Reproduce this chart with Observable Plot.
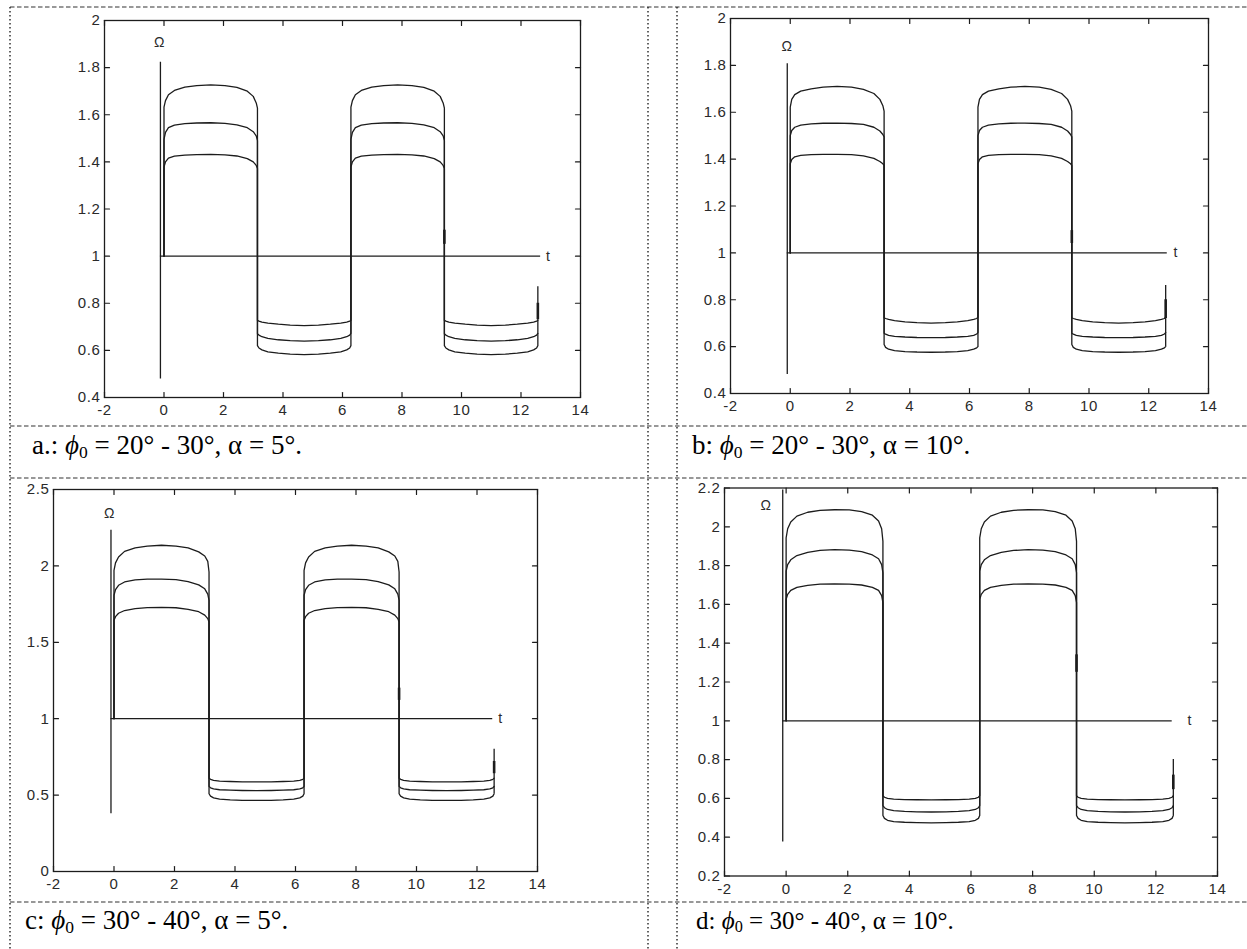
<!DOCTYPE html>
<html><head><meta charset="utf-8">
<script src="https://cdn.jsdelivr.net/npm/d3@7"></script>
<script src="https://cdn.jsdelivr.net/npm/@observablehq/plot@0.6"></script>
<style>
html,body{margin:0;padding:0;background:#fff;}
body{width:1247px;height:949px;position:relative;overflow:hidden;}
.panel{position:absolute;}
#overlay{position:absolute;left:0;top:0;z-index:10;pointer-events:none;}
.cap{position:absolute;z-index:11;white-space:pre;color:#000;font-family:"Liberation Serif","Times New Roman","DejaVu Serif",serif;line-height:1;}
.cap i{font-style:italic;}
.cap sub{font-size:0.65em;vertical-align:-0.2em;line-height:0;}
</style></head>
<body>
<div id="pa" class="panel"></div>
<div id="pb" class="panel"></div>
<div id="pc" class="panel"></div>
<div id="pd" class="panel"></div>
<script>
// ---------- data ----------
const xTicks = [-2, 0, 2, 4, 6, 8, 10, 12, 14];
const abYTicks = [0.4, 0.6, 0.8, 1, 1.2, 1.4, 1.6, 1.8, 2];
const cYTicks = [0, 0.5, 1, 1.5, 2, 2.5];
const dYTicks = [0.2, 0.4, 0.6, 0.8, 1, 1.2, 1.4, 1.6, 1.8, 2, 2.2];

// phase offsets (t within each half period) at which the curves were read
const PHASE = [0, 0.05, 0.15, 0.35, 0.7, 1.1, 1.5708, 2.05, 2.45, 2.8, 3.0, 3.1, 3.1416];

// panel a : phi0 = 20-30, alpha = 5
const aUpper = [
  [1.632, 1.660, 1.685, 1.703, 1.717, 1.724, 1.727, 1.724, 1.716, 1.700, 1.678, 1.650, 1.628],
  [1.495, 1.525, 1.545, 1.556, 1.562, 1.565, 1.566, 1.563, 1.557, 1.545, 1.528, 1.510, 1.490],
  [1.378, 1.400, 1.416, 1.424, 1.429, 1.431, 1.432, 1.430, 1.425, 1.414, 1.400, 1.385, 1.372]
];
const aLower = [
  [0.727, 0.724, 0.720, 0.716, 0.711, 0.707, 0.705, 0.707, 0.711, 0.716, 0.720, 0.724, 0.727],
  [0.670, 0.665, 0.658, 0.651, 0.645, 0.641, 0.639, 0.641, 0.645, 0.651, 0.658, 0.665, 0.672],
  [0.620, 0.610, 0.602, 0.594, 0.588, 0.584, 0.582, 0.584, 0.588, 0.594, 0.602, 0.610, 0.620]
];
// panel b : phi0 = 20-30, alpha = 10
const bUpper = [
  [1.622, 1.655, 1.675, 1.690, 1.700, 1.707, 1.710, 1.707, 1.698, 1.680, 1.655, 1.628, 1.605],
  [1.500, 1.522, 1.536, 1.545, 1.550, 1.553, 1.554, 1.552, 1.548, 1.536, 1.520, 1.505, 1.495],
  [1.380, 1.398, 1.410, 1.416, 1.419, 1.420, 1.420, 1.419, 1.414, 1.403, 1.390, 1.380, 1.373]
];
const bLower = [
  [0.723, 0.720, 0.716, 0.711, 0.706, 0.702, 0.700, 0.702, 0.706, 0.711, 0.716, 0.720, 0.725],
  [0.657, 0.653, 0.648, 0.644, 0.641, 0.639, 0.638, 0.639, 0.641, 0.644, 0.648, 0.654, 0.660],
  [0.609, 0.597, 0.589, 0.583, 0.579, 0.577, 0.576, 0.577, 0.579, 0.583, 0.589, 0.595, 0.600]
];
// panel c : phi0 = 30-40, alpha = 5
const cUpper = [
  [1.971, 2.020, 2.058, 2.095, 2.118, 2.130, 2.135, 2.130, 2.118, 2.092, 2.065, 2.030, 1.960],
  [1.808, 1.845, 1.873, 1.895, 1.908, 1.913, 1.914, 1.910, 1.897, 1.876, 1.850, 1.815, 1.775],
  [1.644, 1.668, 1.690, 1.708, 1.720, 1.727, 1.729, 1.726, 1.716, 1.700, 1.678, 1.655, 1.633]
];
const cLower = [
  [0.611, 0.603, 0.597, 0.592, 0.589, 0.587, 0.586, 0.587, 0.589, 0.592, 0.597, 0.603, 0.611],
  [0.557, 0.548, 0.541, 0.535, 0.532, 0.530, 0.529, 0.530, 0.532, 0.535, 0.541, 0.548, 0.557],
  [0.509, 0.493, 0.482, 0.474, 0.469, 0.466, 0.465, 0.466, 0.469, 0.474, 0.482, 0.493, 0.509]
];
// panel d : phi0 = 30-40, alpha = 10
const dUpper = [
  [1.943, 1.990, 2.025, 2.055, 2.075, 2.085, 2.088, 2.087, 2.078, 2.060, 2.030, 1.990, 1.925],
  [1.771, 1.805, 1.830, 1.852, 1.868, 1.878, 1.882, 1.880, 1.872, 1.855, 1.835, 1.805, 1.763],
  [1.626, 1.652, 1.672, 1.688, 1.698, 1.704, 1.706, 1.705, 1.700, 1.688, 1.672, 1.645, 1.609]
];
const dLower = [
  [0.614, 0.606, 0.600, 0.596, 0.594, 0.593, 0.592, 0.593, 0.594, 0.596, 0.600, 0.606, 0.614],
  [0.563, 0.552, 0.543, 0.537, 0.533, 0.531, 0.530, 0.531, 0.533, 0.537, 0.543, 0.552, 0.563],
  [0.512, 0.497, 0.487, 0.480, 0.477, 0.475, 0.474, 0.475, 0.477, 0.480, 0.487, 0.497, 0.512]
];

// hand-drawn axes inside the plots: [t, Omega bottom, Omega top]
const omegaAxes = {a: [-0.12, 0.479, 1.823], b: [-0.10, 0.481, 1.807], c: [-0.10, 0.378, 2.233], d: [-0.11, 0.375, 2.19]};
const tAxes = {a: [-0.12, 12.66], b: [-0.10, 12.62], c: [-0.10, 12.52], d: [-0.11, 12.53]};
const omegaLabels = {a: [-0.15, 1.907], b: [-0.11, 1.880], c: [-0.15, 2.34], d: [-0.65, 2.11]};
const tLabels = {a: [12.92, 1], b: [12.90, 1], c: [12.78, 1], d: [13.1, 1]};
const stubs3pi = {a: [1.05, 1.11], b: [1.04, 1.095], c: [1.12, 1.20], d: [1.25, 1.34]};
const stubsEnd = {a: [0.73, 0.80], b: [0.72, 0.80], c: [0.64, 0.72], d: [0.645, 0.72]};
const endTops = {a: 0.87, b: 0.861, c: 0.80, d: 0.80};

const captions = [
  {p: "a.: ", rest: " = 20° - 30°, α = 5°."},
  {p: "b: ", rest: " = 20° - 30°, α = 10°."},
  {p: "c: ", rest: " = 30° - 40°, α = 5°."},
  {p: "d: ", rest: " = 30° - 40°, α = 10°."}
];

// ---------- build ----------
function buildCurves(upper, lower) {
  const rows = [];
  upper.forEach((u, i) => {
    const l = lower[i];
    rows.push({t: 0, w: 1, c: i});
    for (let k = 0; k < 2; k++) {
      PHASE.forEach((p, j) => rows.push({t: 2 * Math.PI * k + p, w: u[j], c: i}));
      PHASE.forEach((p, j) => rows.push({t: 2 * Math.PI * k + Math.PI + p, w: l[j], c: i}));
    }
  });
  return rows;
}

const tickShape = {draw(ctx, l) { ctx.moveTo(0, 0); ctx.lineTo(0, -l); }};
const INK = "#1c1c1c";
const LBL = "#2a2a2a";
const FS = 15;

const panelCfg = [
  {key: "a", el: "pa", left: 50, top: 8, width: 545, height: 415, mL: 54, mR: 15, mT: 12, mB: 26, yDom: [0.4, 2], yTicks: abYTicks, upper: aUpper, lower: aLower},
  {key: "b", el: "pb", left: 686, top: 6, width: 540, height: 415, mL: 44, mR: 18, mT: 12, mB: 28, yDom: [0.4, 2], yTicks: abYTicks, upper: bUpper, lower: bLower},
  {key: "c", el: "pc", left: 12, top: 477, width: 540, height: 420, mL: 41, mR: 15, mT: 12, mB: 26, yDom: [0, 2.5], yTicks: cYTicks, upper: cUpper, lower: cLower},
  {key: "d", el: "pd", left: 680, top: 476, width: 560, height: 422, mL: 44, mR: 23, mT: 11.5, mB: 22.5, yDom: [0.2, 2.2], yTicks: dYTicks, upper: dUpper, lower: dLower}
];

for (const cfg of panelCfg) {
  const k = cfg.key;
  const rows = buildCurves(cfg.upper, cfg.lower);
  const oa = omegaAxes[k], ta = tAxes[k];
  const lastBottom = cfg.lower[2][cfg.lower[2].length - 1];
  const fmt = d => String(d);
  const chart = Plot.plot({
    width: cfg.width, height: cfg.height,
    marginLeft: cfg.mL, marginRight: cfg.mR, marginTop: cfg.mT, marginBottom: cfg.mB,
    style: {fontFamily: "'Liberation Sans', Arial, sans-serif", fontSize: FS + "px", letterSpacing: "0.6px", color: LBL, background: "transparent", overflow: "visible"},
    x: {domain: [-2, 14], ticks: xTicks},
    y: {domain: cfg.yDom, ticks: cfg.yTicks},
    marks: [
      Plot.frame({stroke: INK, strokeWidth: 1.3}),
      Plot.axisX({ticks: xTicks, tickSize: 0, tickPadding: 7, tickFormat: fmt, label: null, fill: LBL, fontSize: FS}),
      Plot.axisY({ticks: cfg.yTicks, tickSize: 0, tickPadding: 4, tickFormat: fmt, label: null, fill: LBL, fontSize: FS}),
      // inward ticks on all four sides
      Plot.vector(xTicks, {x: d => d, y: cfg.yDom[0], length: 5, rotate: 0, anchor: "start", shape: tickShape, stroke: INK, strokeWidth: 1.2}),
      Plot.vector(xTicks, {x: d => d, y: cfg.yDom[1], length: 5, rotate: 180, anchor: "start", shape: tickShape, stroke: INK, strokeWidth: 1.2}),
      Plot.vector(cfg.yTicks, {x: -2, y: d => d, length: 5, rotate: 90, anchor: "start", shape: tickShape, stroke: INK, strokeWidth: 1.2}),
      Plot.vector(cfg.yTicks, {x: 14, y: d => d, length: 5, rotate: 270, anchor: "start", shape: tickShape, stroke: INK, strokeWidth: 1.2}),
      // drawn Omega and t axes
      Plot.ruleX([oa[0]], {y1: oa[1], y2: oa[2], stroke: INK, strokeWidth: 1.3}),
      Plot.ruleY([1], {x1: ta[0], x2: ta[1], stroke: INK, strokeWidth: 1.3}),
      Plot.text([omegaLabels[k]], {x: d => d[0], y: d => d[1], text: () => "Ω", fontSize: 14, fill: LBL}),
      Plot.text([tLabels[k]], {x: d => d[0], y: d => d[1], text: () => "t", fontSize: 14, fill: LBL}),
      // curves
      Plot.line(rows, {x: "t", y: "w", z: "c", stroke: INK, strokeWidth: 1.3}),
      // end rise and small thick segments
      Plot.ruleX([4 * Math.PI], {y1: lastBottom, y2: endTops[k], stroke: INK, strokeWidth: 1.3}),
      Plot.ruleX([4 * Math.PI], {y1: stubsEnd[k][0], y2: stubsEnd[k][1], stroke: INK, strokeWidth: 2.6}),
      Plot.ruleX([3 * Math.PI], {y1: stubs3pi[k][0], y2: stubs3pi[k][1], stroke: INK, strokeWidth: 2.6})
    ]
  });
  const host = document.getElementById(cfg.el);
  host.style.left = cfg.left + "px";
  host.style.top = cfg.top + "px";
  host.appendChild(chart);
}

// ---------- table borders ----------
const W = 1247, H = 949;
const svg = d3.select("body").append("svg").attr("id", "overlay").attr("width", W).attr("height", H);
const hLines = [7, 426, 478, 902];
const vLines = [10, 648, 677];
svg.selectAll("line.h").data(hLines).join("line")
  .attr("x1", 10).attr("x2", W).attr("y1", d => d).attr("y2", d => d)
  .attr("stroke", "#333").attr("stroke-width", 1.2).attr("stroke-dasharray", "4.5,2.5");
svg.selectAll("line.v").data(vLines).join("line")
  .attr("class", "v")
  .attr("x1", d => d).attr("x2", d => d).attr("y1", 7).attr("y2", H)
  .attr("stroke", "#222").attr("stroke-width", 1.4).attr("stroke-dasharray", "1.4,2.6");

// ---------- captions (HTML text) ----------
const capPos = [
  {x: 32, base: 455, size: 27},
  {x: 692, base: 455, size: 27},
  {x: 25, base: 930, size: 27},
  {x: 696, base: 929, size: 25}
];
captions.forEach((c, i) => {
  const pos = capPos[i];
  const div = document.createElement("div");
  div.className = "cap";
  div.style.left = pos.x + "px";
  div.style.fontSize = pos.size + "px";
  div.style.top = (pos.base - 0.84 * pos.size) + "px";
  div.append(document.createTextNode(c.p));
  const phi = document.createElement("i"); phi.textContent = "ϕ"; div.append(phi);
  const sub = document.createElement("sub"); sub.textContent = "0"; div.append(sub);
  div.append(document.createTextNode(c.rest));
  document.body.appendChild(div);
});
</script>
</body></html>
